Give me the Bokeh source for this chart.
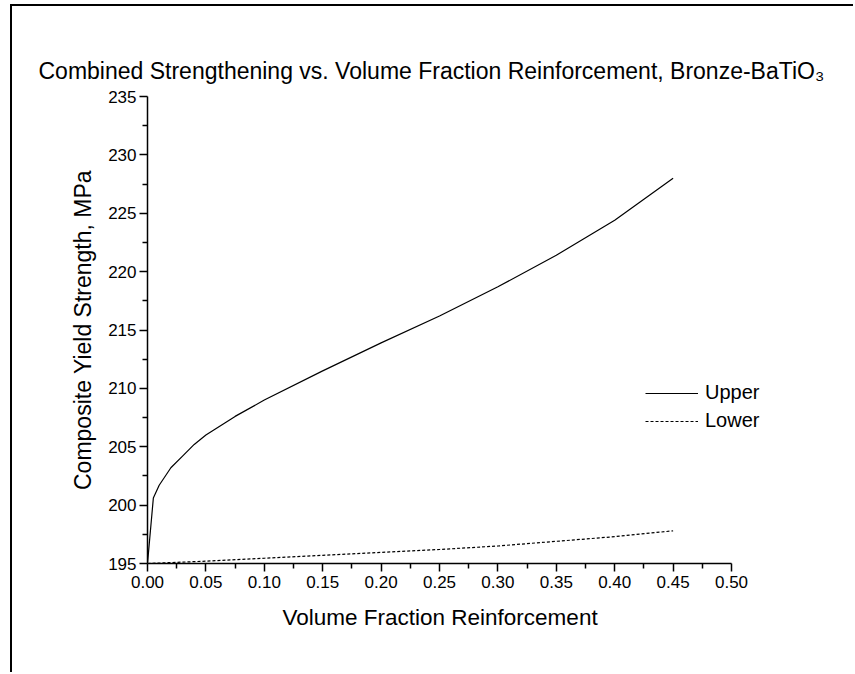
from bokeh.plotting import figure
from bokeh.models import Range1d, FixedTicker, Legend, LegendItem, Title
from bokeh.embed import file_html
from bokeh.resources import INLINE

# ---- data ----
x_upper = [0.0, 0.005, 0.01, 0.02, 0.03, 0.04, 0.05, 0.075, 0.10, 0.15,
           0.20, 0.25, 0.30, 0.35, 0.40, 0.45]
upper = [195.0, 200.6, 201.7, 203.2, 204.2, 205.2, 206.0, 207.6, 209.0, 211.5,
         213.9, 216.2, 218.7, 221.4, 224.4, 228.0]

x_lower = [0.0, 0.05, 0.10, 0.15, 0.20, 0.25, 0.30, 0.35, 0.40, 0.45]
lower = [195.0, 195.2, 195.45, 195.7, 195.95, 196.2, 196.5, 196.9, 197.3, 197.8]

x_ticks = [0.0, 0.05, 0.10, 0.15, 0.20, 0.25, 0.30, 0.35, 0.40, 0.45, 0.50]
x_tick_labels = ["0.00", "0.05", "0.10", "0.15", "0.20", "0.25",
                 "0.30", "0.35", "0.40", "0.45", "0.50"]
x_minor = [0.025, 0.075, 0.125, 0.175, 0.225, 0.275, 0.325, 0.375, 0.425, 0.475]
y_ticks = [195, 200, 205, 210, 215, 220, 225, 230, 235]
y_minor = [197.5, 202.5, 207.5, 212.5, 217.5, 222.5, 227.5, 232.5]

title_text = "Combined Strengthening vs. Volume Fraction Reinforcement, Bronze-BaTiO\u2083"
x_label = "Volume Fraction Reinforcement"
y_label = "Composite Yield Strength, MPa"
series_names = ["Upper", "Lower"]

FONT = "Liberation Sans"

# frame extends to the right edge so the legend is not clipped;
# the x axis itself is bounded to 0 .. 0.5
X_END = 0.5 * (855 - 147) / (731 - 147)

p = figure(width=843, height=668, output_backend="svg", toolbar_location=None,
           x_range=Range1d(0, X_END), y_range=Range1d(195, 235),
           min_border_left=135, min_border_right=0, min_border_top=90,
           min_border_bottom=111)
p.margin = (4, 0, 0, 10)
p.styles = {"border-left": "2px solid black", "border-top": "2px solid black"}

p.outline_line_color = None
p.xgrid.visible = False
p.ygrid.visible = False
p.background_fill_color = "white"
p.border_fill_color = "white"

p.title.text = title_text
p.title.text_font = FONT
p.title.text_font_size = "23px"
p.title.text_font_style = "normal"
p.title.text_color = "black"
p.title.align = "left"
p.title.offset = -109
p.title.standoff = 25

r1 = p.line(x_upper, upper, line_color="black", line_width=1.2)
r2 = p.line(x_lower, lower, line_color="black", line_width=1.2, line_dash="3 2")

for ax in (p.xaxis[0], p.yaxis[0]):
    ax.axis_line_color = "black"
    ax.axis_line_width = 1.5
    ax.major_tick_line_color = "black"
    ax.major_tick_line_width = 1.5
    ax.minor_tick_line_color = "black"
    ax.minor_tick_line_width = 1.5
    ax.major_tick_in = 0
    ax.major_tick_out = 8
    ax.minor_tick_in = 0
    ax.minor_tick_out = 5
    ax.major_label_text_font = FONT
    ax.major_label_text_font_size = "17px"
    ax.major_label_text_color = "black"
    ax.axis_label_text_font = FONT
    ax.axis_label_text_font_size = "23px"
    ax.axis_label_text_font_style = "normal"
    ax.axis_label_text_color = "black"

p.xaxis[0].bounds = (0, 0.5)
p.xaxis[0].ticker = FixedTicker(ticks=x_ticks, minor_ticks=x_minor)
p.xaxis[0].major_label_overrides = {t: s for t, s in zip(x_ticks, x_tick_labels)}
p.xaxis[0].major_label_standoff = 4

# x-axis title placed as a "below" title so it centres on the 0..0.5 axis
p.add_layout(Title(text=x_label, text_font=FONT, text_font_size="22.5px",
                   text_font_style="normal", text_color="black",
                   align="left", offset=135, standoff=25), "below")

p.yaxis[0].ticker = FixedTicker(ticks=y_ticks, minor_ticks=y_minor)
p.yaxis[0].axis_label = y_label
p.yaxis[0].axis_label_standoff = 9
p.yaxis[0].major_label_standoff = 3

legend = Legend(items=[LegendItem(label=series_names[0], renderers=[r1]),
                       LegendItem(label=series_names[1], renderers=[r2])],
                location=(498, 131), padding=0, margin=0, spacing=5,
                glyph_width=53, glyph_height=20, label_height=20,
                label_standoff=7, label_text_font=FONT,
                label_text_font_size="20px", label_text_color="black",
                border_line_alpha=0, background_fill_alpha=0)
p.add_layout(legend)

html = file_html(p, INLINE)
open("out.html", "w").write(html)
